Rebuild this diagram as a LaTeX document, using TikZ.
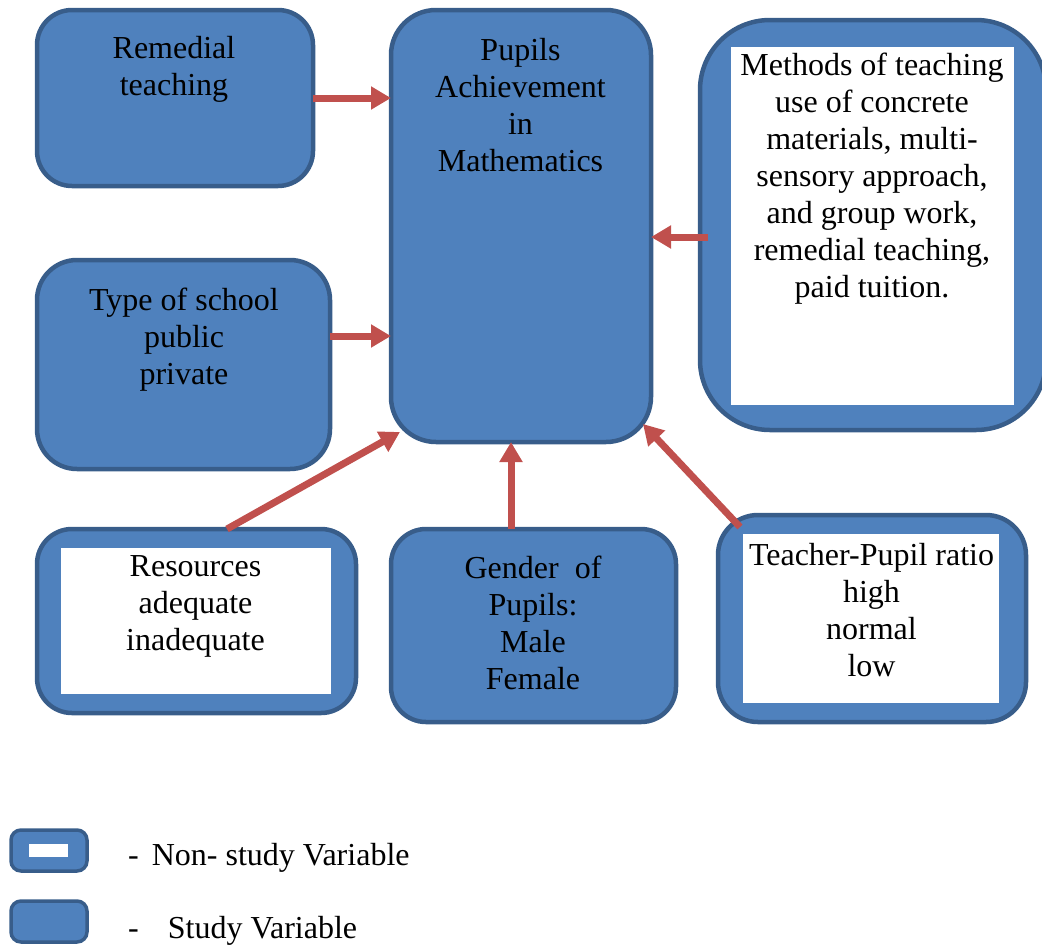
\documentclass[tikz,border=0pt]{standalone}
\usepackage{fontspec}
\setmainfont{Liberation Serif}
\usetikzlibrary{arrows.meta,calc}
\definecolor{boxfill}{HTML}{4F81BD}
\definecolor{boxline}{HTML}{385D8A}
\definecolor{arrowred}{HTML}{C0504D}
\begin{document}
\begin{tikzpicture}[x=1pt,y=-1pt,
  varbox/.style={draw=boxline, fill=boxfill, line width=4.5pt, rounded corners=#1,
    inner sep=0pt, outer sep=0pt, rectangle},
  legbox/.style={draw=boxline, fill=boxfill, line width=3.5pt, rounded corners=10pt,
    inner sep=0pt, outer sep=0pt, rectangle, minimum width=76pt, minimum height=41pt},
  whitebox/.style={fill=white, draw=none, inner sep=0pt, outer sep=0pt, rectangle},
  label/.style={font=\fontsize{32}{37}\selectfont, align=center, anchor=base, inner sep=0pt},
  legtext/.style={font=\fontsize{32}{37}\selectfont, anchor=base west, inner sep=0pt},
  link/.style={draw=arrowred, line width=7pt, -{Triangle[length=20pt,width=22pt]}}]
\useasboundingbox (0,0) rectangle (1042,946);

% boxes
\node[varbox=35pt, minimum width=276pt, minimum height=176pt] (rem) at (175,98) {};
\node[varbox=45pt, minimum width=260pt, minimum height=432pt] (pa) at (521,226) {};
\node[varbox=70pt, minimum width=346pt, minimum height=410pt] (meth) at (873,225) {};
\node[varbox=40pt, minimum width=293pt, minimum height=209pt] (type) at (183.5,364.5) {};
\node[varbox=35pt, minimum width=319pt, minimum height=184pt] (res) at (196.5,621) {};
\node[varbox=35pt, minimum width=285pt, minimum height=193pt] (gen) at (533.5,625.5) {};
\node[varbox=40pt, minimum width=308pt, minimum height=207pt] (tea) at (872,618.5) {};

% white inner panels (non-study variables)
\node[whitebox, minimum width=283pt, minimum height=358pt] (methw) at (872.5,226) {};
\node[whitebox, minimum width=270pt, minimum height=146pt] (resw) at (196,621) {};
\node[whitebox, minimum width=256pt, minimum height=169pt] (teaw) at (871,618.5) {};

% texts (anchor = baseline of the last line)
\node[label] (remt) at (174,95) {Remedial\\teaching};
\node[label] (pat) at (520.5,171) {Pupils\\Achievement\\in\\Mathematics};
\node[label] (metht) at (872,297) {Methods of teaching\\use of concrete\\materials, multi-\\sensory approach,\\and group work,\\remedial teaching,\\paid tuition.};
\node[label] (typet) at (184,384) {Type of school\\public\\private};
\node[label] (rest) at (195.5,650) {Resources\\adequate\\inadequate};
\node[label] (gent) at (533,689) {Gender\ \ of\\Pupils:\\Male\\Female};
\node[label] (teat) at (871.5,676) {Teacher-Pupil ratio\\high\\normal\\low};

% connector end points
\coordinate (t2) at ($(type.east)+(0,-28.5)$);
\coordinate (m3) at ($(meth.west)+(8,12)$);
\coordinate (r4) at ($(res.north)+(30.5,0)$);
\coordinate (p4) at ($(pa.south west)+(9,-10)$);
\coordinate (g5) at ($(gen.north)+(-22.5,0)$);
\coordinate (t6) at ($(tea.north west)+(22,12)$);
\coordinate (p6) at ($(pa.south east)+(-8,-18)$);

% connectors
\draw[link] (rem.east) -- (pa.west |- rem.east);
\draw[link] (t2) -- (pa.west |- t2);
\draw[link] (m3) -- (pa.east |- m3);
\draw[link] (r4) -- (p4);
\draw[link] (g5) -- (g5 |- pa.south);
\draw[link] (t6) -- (p6);

% legend
\node[legbox] (leg1) at (49,850.5) {};
\node[whitebox, minimum width=39pt, minimum height=13pt] (leg1w) at (48.5,850.5) {};
\node[legbox] (leg2) at (49,921.5) {};
\node[legtext] (leg1t) at (128,865) {-\hspace{13pt}Non- study Variable};
\node[legtext] (leg2t) at (128,938) {-\hspace{29pt}Study Variable};
\end{tikzpicture}
\end{document}
